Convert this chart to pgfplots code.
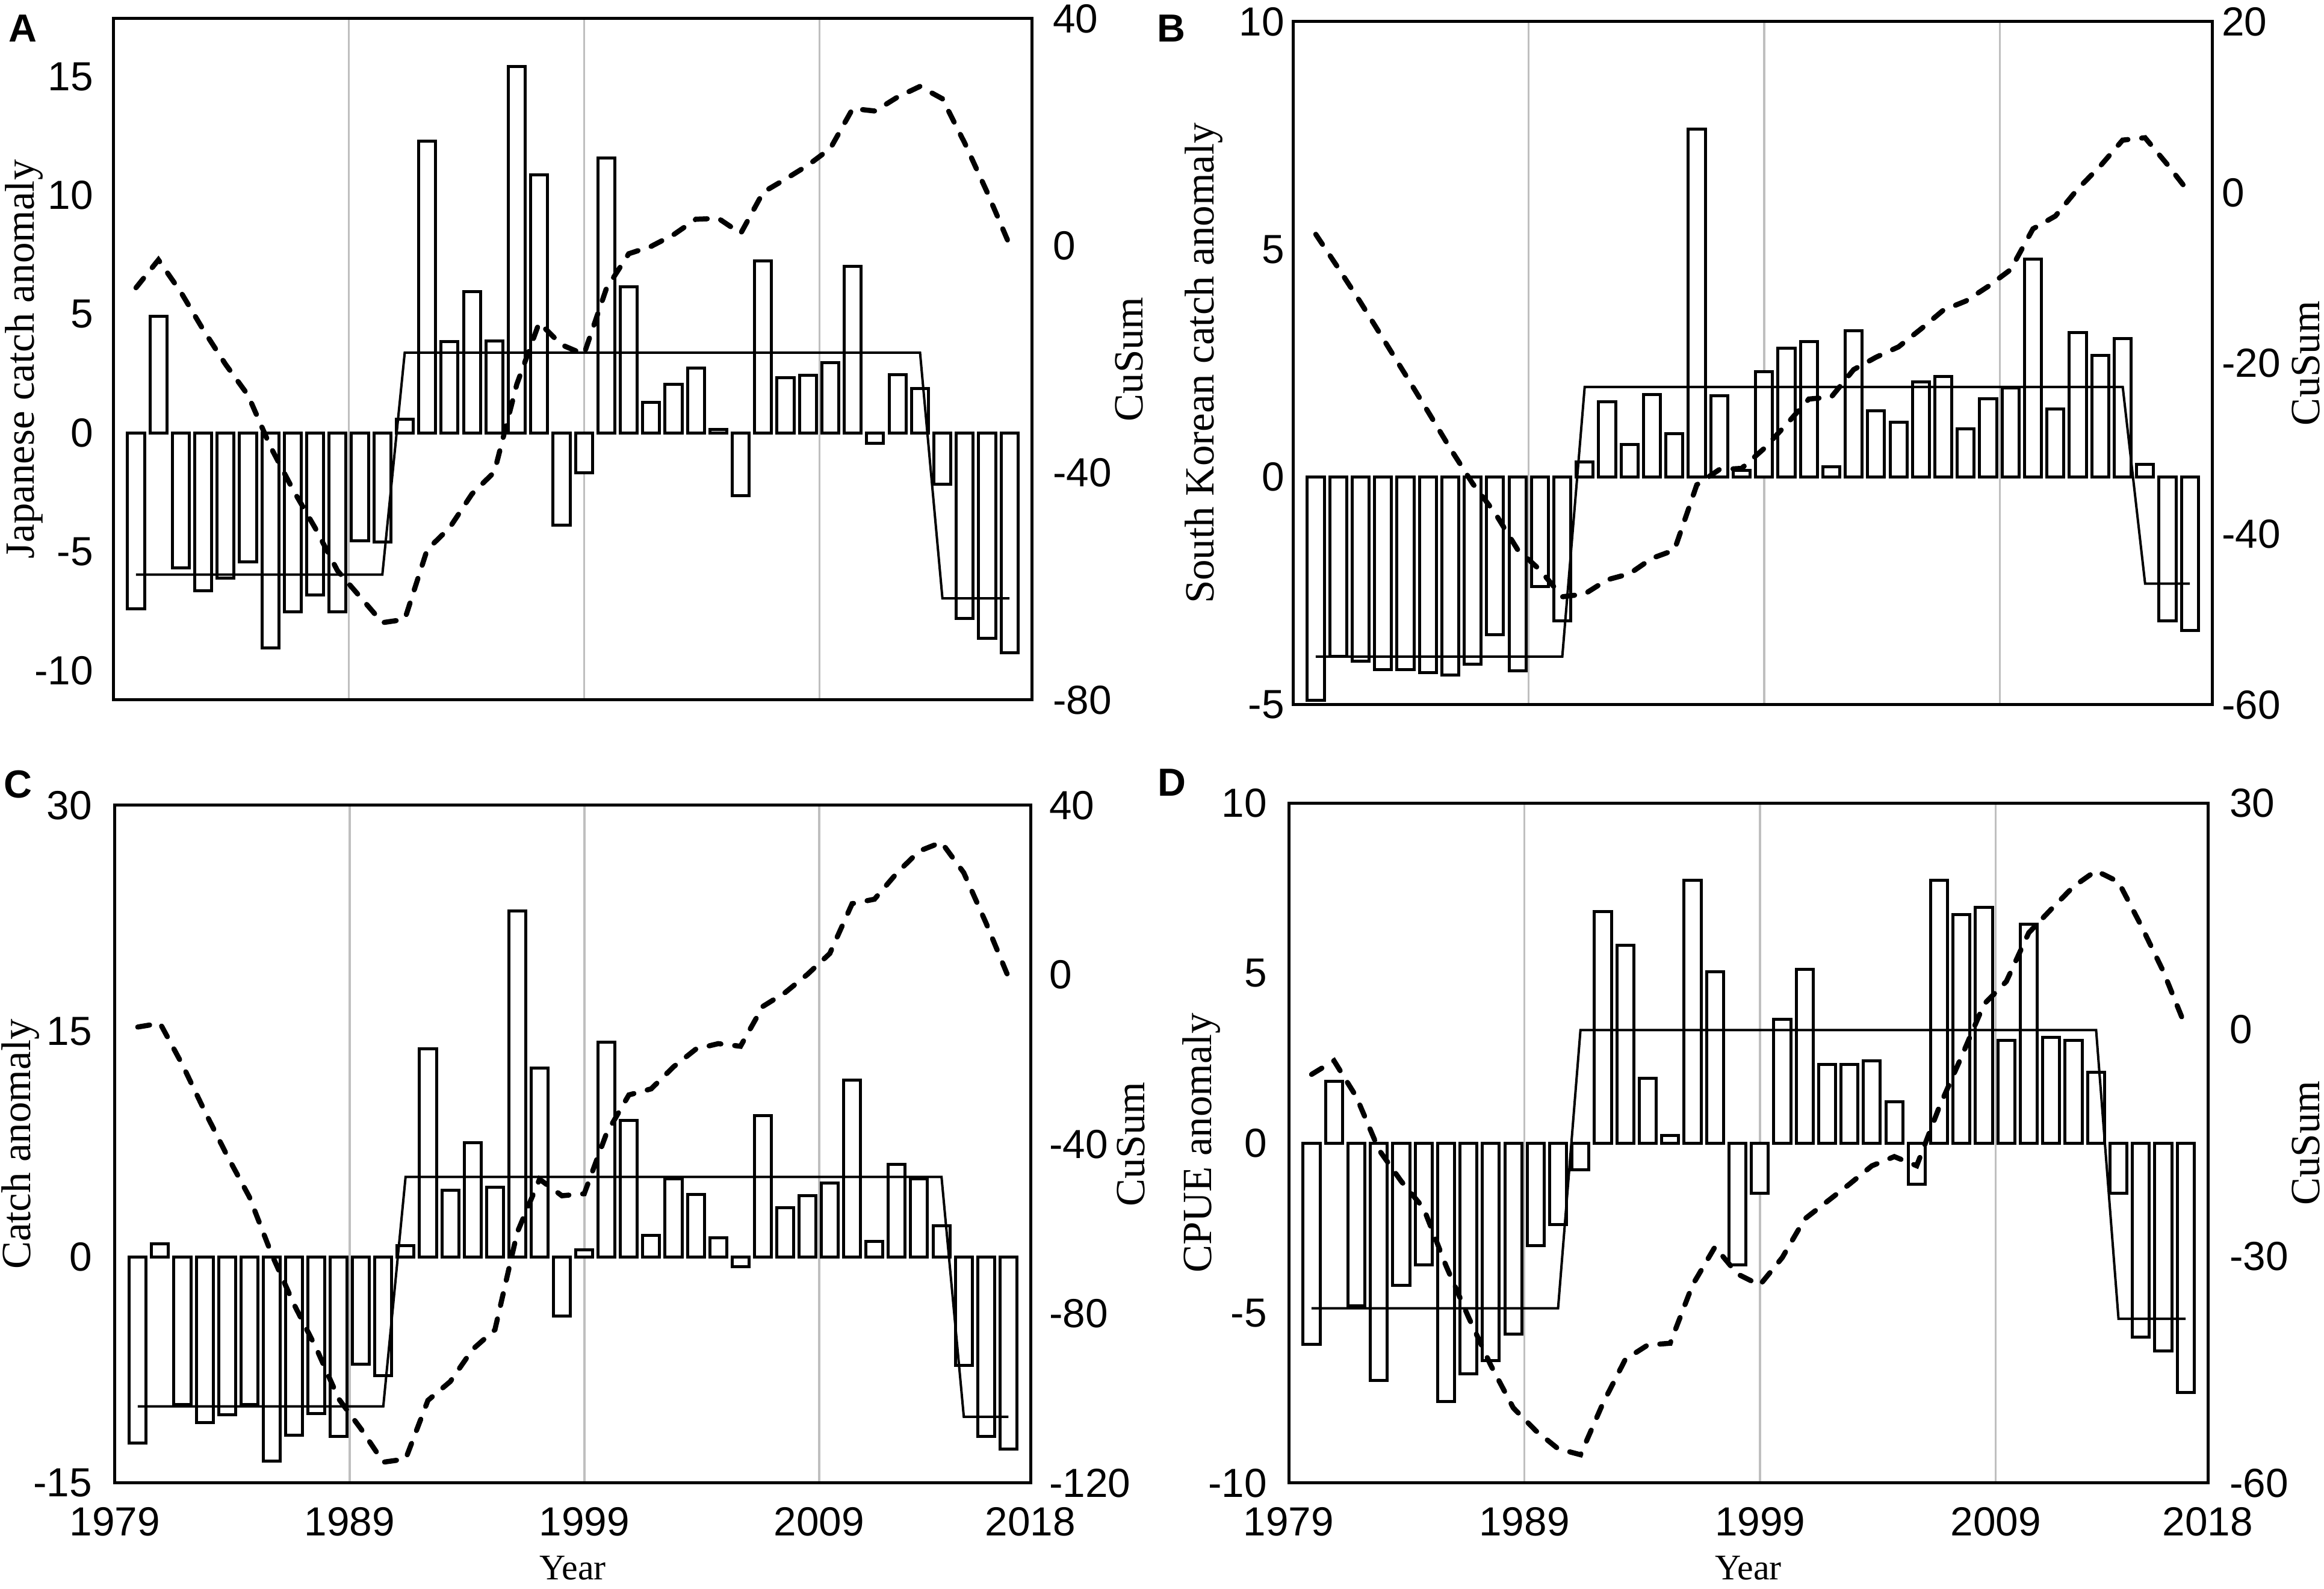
\documentclass[border=0pt]{standalone}
\usepackage{fontspec}
\setmainfont{Liberation Serif}
\newfontfamily\arial{Liberation Sans}
\usepackage{pgfplots}
\usepackage{pgfplotstable}
\pgfplotsset{compat=1.18}
\definecolor{gridgray}{HTML}{BFBFBF}

\pgfplotstableread{
i a ca b cb c cc d cd
0 -7.39 -7.39 -4.90 -4.90 -12.34 -12.34 -5.92 -5.92
1 4.91 -2.48 -3.94 -8.84 0.89 -11.45 1.81 -4.11
2 -5.67 -8.15 -4.04 -12.88 -9.78 -21.23 -4.79 -8.90
3 -6.63 -14.78 -4.23 -17.11 -10.97 -32.20 -6.98 -15.88
4 -6.11 -20.89 -4.23 -21.34 -10.46 -42.66 -4.18 -20.06
5 -5.42 -26.31 -4.29 -25.63 -9.78 -52.44 -3.58 -23.64
6 -9.05 -35.36 -4.35 -29.98 -13.54 -65.98 -7.61 -31.25
7 -7.54 -42.90 -4.11 -34.09 -11.83 -77.81 -6.78 -38.03
8 -6.81 -49.71 -3.46 -37.55 -10.39 -88.20 -6.40 -44.43
9 -7.54 -57.25 -4.25 -41.80 -11.90 -100.10 -5.62 -50.05
10 -4.55 -61.80 -2.40 -44.20 -7.11 -107.21 -3.01 -53.06
11 -4.58 -66.38 -3.15 -47.35 -7.86 -115.07 -2.40 -55.46
12 0.58 -65.80 0.33 -47.02 0.75 -114.32 -0.79 -56.25
13 12.28 -53.52 1.66 -45.36 13.85 -100.47 6.80 -49.45
14 3.85 -49.67 0.71 -44.65 4.44 -96.03 5.82 -43.63
15 5.96 -43.71 1.81 -42.84 7.59 -88.44 1.90 -41.73
16 3.87 -39.84 0.96 -41.88 4.65 -83.79 0.23 -41.50
17 15.42 -24.42 7.64 -34.24 22.97 -60.82 7.72 -33.78
18 10.87 -13.55 1.78 -32.46 12.55 -48.27 5.03 -28.75
19 -3.89 -17.44 0.15 -32.31 -3.90 -52.17 -3.58 -32.33
20 -1.68 -19.12 2.32 -29.99 0.48 -51.69 -1.47 -33.80
21 11.57 -7.55 2.83 -27.16 14.26 -37.43 3.63 -30.17
22 6.15 -1.40 2.97 -24.19 9.06 -28.37 5.11 -25.06
23 1.30 -0.10 0.23 -23.96 1.44 -26.93 2.31 -22.75
24 2.05 1.95 3.22 -20.74 5.20 -21.73 2.31 -20.44
25 2.73 4.68 1.45 -19.29 4.17 -17.56 2.42 -18.02
26 0.15 4.83 1.21 -18.08 1.30 -16.26 1.22 -16.80
27 -2.65 2.18 2.09 -15.99 -0.62 -16.88 -1.21 -18.01
28 7.25 9.43 2.21 -13.78 9.40 -7.48 7.72 -10.29
29 2.32 11.75 1.06 -12.72 3.28 -4.20 6.72 -3.57
30 2.44 14.19 1.72 -11.00 4.10 0.10 6.93 3.36
31 2.96 17.15 1.96 -9.04 4.92 5.02 3.02 6.38
32 7.02 24.17 4.78 -4.26 11.76 16.78 6.44 12.82
33 -0.44 23.73 1.50 -2.76 1.06 17.84 3.11 15.93
34 2.46 26.19 3.18 0.42 6.15 23.99 3.02 18.95
35 1.88 28.07 2.67 3.09 5.20 29.19 2.08 21.03
36 -2.17 25.90 3.04 6.13 2.09 31.28 -1.47 19.56
37 -7.81 18.09 0.28 6.41 -7.18 24.10 -5.71 13.85
38 -8.65 9.44 -3.15 3.26 -11.90 12.20 -6.12 7.73
39 -9.25 0.19 -3.37 -0.11 -12.75 -0.55 -7.33 0.40
}\data

\newcommand{\tickfont}{\arial\fontsize{13.5}{16}\selectfont}
\newcommand{\labfont}{\fontsize{13.8}{16}\selectfont}

\pgfplotsset{
  basestyle/.style={
    scale only axis, xmin=1979, xmax=2018, enlargelimits=false,
    major tick length=0pt, tick style={draw=none},
    /pgf/number format/assume math mode=true,
    ticklabel style={font=\tickfont},
  },
  panelL/.style={
    basestyle,
    axis line style={line width=1pt},
    xtick={1979,1989,1999,2009,2018},
    xmajorgrids, grid style={line width=0.65pt, color=gridgray},
    yticklabel style={anchor=east, inner sep=0pt, xshift=-#1},
    xticklabel style={anchor=north, inner sep=0pt, yshift=-7.8pt},
  },
  panelR/.style={
    basestyle,
    axis y line*=right, axis x line=none,
    axis line style={line width=1pt},
    yticklabel style={anchor=west, inner sep=0pt, xshift=#1},
  },
  barplot/.style={ybar, bar width=0.72, fill=white, draw=black, line width=1pt},
  stepplot/.style={black, line width=0.8pt, sharp plot, mark=none},
  cusumplot/.style={black, line width=1.7pt, dash pattern=on 4pt off 4.6pt, line cap=round, mark=none},
}

\begin{document}
\begin{tikzpicture}
\path[use as bounding box] (0pt,0pt) rectangle (772.2pt,528pt);

% ---------------- Panel A ----------------
\begin{axis}[panelL=6.4pt, at={(37.6pt,295.4pt)}, anchor=south west,
  width=305.2pt, height=226.4pt, ymin=-11.24, ymax=17.44,
  ytick={-10,-5,0,5,10,15}, xticklabels={}]
  \addplot[barplot] table[x expr=1979.97+0.951*\thisrow{i}, y=a] {\data};
  \addplot[stepplot] coordinates {(1979.97,-5.96) (1990.43,-5.96) (1991.38,3.38) (2013.26,3.38) (2014.21,-6.96) (2017.06,-6.96)};
\end{axis}
\begin{axis}[panelR=6.8pt, at={(37.6pt,295.4pt)}, anchor=south west,
  width=305.2pt, height=226.4pt, ymin=-80, ymax=40, ytick={-80,-40,0,40}]
  \addplot[cusumplot] table[x expr=1979.97+0.951*\thisrow{i}, y=ca] {\data};
\end{axis}

% ---------------- Panel B ----------------
\begin{axis}[panelL=2.6pt, at={(429.6pt,293.8pt)}, anchor=south west,
  width=305.4pt, height=227pt, ymin=-5, ymax=10,
  ytick={-5,0,5,10}, xticklabels={}]
  \addplot[barplot] table[x expr=1979.97+0.951*\thisrow{i}, y=b] {\data};
  \addplot[stepplot] coordinates {(1979.97,-3.94) (1990.43,-3.94) (1991.38,1.98) (2014.21,1.98) (2015.16,-2.34) (2017.06,-2.34)};
\end{axis}
\begin{axis}[panelR=3pt, at={(429.6pt,293.8pt)}, anchor=south west,
  width=305.4pt, height=227pt, ymin=-60, ymax=20, ytick={-60,-40,-20,0,20}]
  \addplot[cusumplot] table[x expr=1979.97+0.951*\thisrow{i}, y=cb] {\data};
\end{axis}

% ---------------- Panel C ----------------
\begin{axis}[panelL=7.4pt, at={(38.2pt,35.2pt)}, anchor=south west,
  width=304.2pt, height=225.2pt, ymin=-15, ymax=30,
  ytick={-15,0,15,30}, xticklabels={1979,1989,1999,2009,2018}]
  \addplot[barplot] table[x expr=1979.97+0.951*\thisrow{i}, y=c] {\data};
  \addplot[stepplot] coordinates {(1979.97,-9.91) (1990.43,-9.91) (1991.38,5.33) (2014.21,5.33) (2015.16,-10.6) (2017.06,-10.6)};
\end{axis}
\begin{axis}[panelR=6pt, at={(38.2pt,35.2pt)}, anchor=south west,
  width=304.2pt, height=225.2pt, ymin=-120, ymax=40, ytick={-120,-80,-40,0,40}]
  \addplot[cusumplot] table[x expr=1979.97+0.951*\thisrow{i}, y=cc] {\data};
\end{axis}

% ---------------- Panel D ----------------
\begin{axis}[panelL=7pt, at={(428.2pt,35.2pt)}, anchor=south west,
  width=305.4pt, height=226pt, ymin=-10, ymax=10,
  ytick={-10,-5,0,5,10}, xticklabels={1979,1989,1999,2009,2018}]
  \addplot[barplot] table[x expr=1979.97+0.951*\thisrow{i}, y=d] {\data};
  \addplot[stepplot] coordinates {(1979.97,-4.86) (1990.43,-4.86) (1991.38,3.32) (2013.26,3.32) (2014.21,-5.17) (2017.06,-5.17)};
\end{axis}
\begin{axis}[panelR=7pt, at={(428.2pt,35.2pt)}, anchor=south west,
  width=305.4pt, height=226pt, ymin=-60, ymax=30, ytick={-60,-30,0,30}]
  \addplot[cusumplot] table[x expr=1979.97+0.951*\thisrow{i}, y=cd] {\data};
\end{axis}

% ---------------- labels ----------------
\node[rotate=90, inner sep=0pt, font=\labfont] at (8pt,408.6pt) {Japanese catch anomaly};
\node[rotate=90, inner sep=0pt, font=\labfont] at (400pt,407.3pt) {South Korean catch anomaly};
\node[rotate=90, inner sep=0pt, font=\labfont] at (6.8pt,147.8pt) {Catch anomaly};
\node[rotate=90, inner sep=0pt, font=\labfont] at (399.2pt,148.2pt) {CPUE anomaly};
\node[rotate=90, inner sep=0pt, font=\labfont] at (375.2pt,408.6pt) {CuSum};
\node[rotate=90, inner sep=0pt, font=\labfont] at (766.2pt,407.3pt) {CuSum};
\node[rotate=90, inner sep=0pt, font=\labfont] at (375.8pt,147.8pt) {CuSum};
\node[rotate=90, inner sep=0pt, font=\labfont] at (766.2pt,148.2pt) {CuSum};
\node[anchor=base, inner sep=0pt, font=\fontsize{12}{14}\selectfont] at (190.3pt,3pt) {Year};
\node[anchor=base, inner sep=0pt, font=\fontsize{12}{14}\selectfont] at (580.9pt,3pt) {Year};
\node[anchor=base west, inner sep=0pt, font=\arial\bfseries\fontsize{13}{15}\selectfont] at (2.6pt,514pt) {A};
\node[anchor=base west, inner sep=0pt, font=\arial\bfseries\fontsize{13}{15}\selectfont] at (384.2pt,514pt) {B};
\node[anchor=base west, inner sep=0pt, font=\arial\bfseries\fontsize{13}{15}\selectfont] at (1pt,262.8pt) {C};
\node[anchor=base west, inner sep=0pt, font=\arial\bfseries\fontsize{13}{15}\selectfont] at (384.4pt,263.4pt) {D};
\end{tikzpicture}
\end{document}
